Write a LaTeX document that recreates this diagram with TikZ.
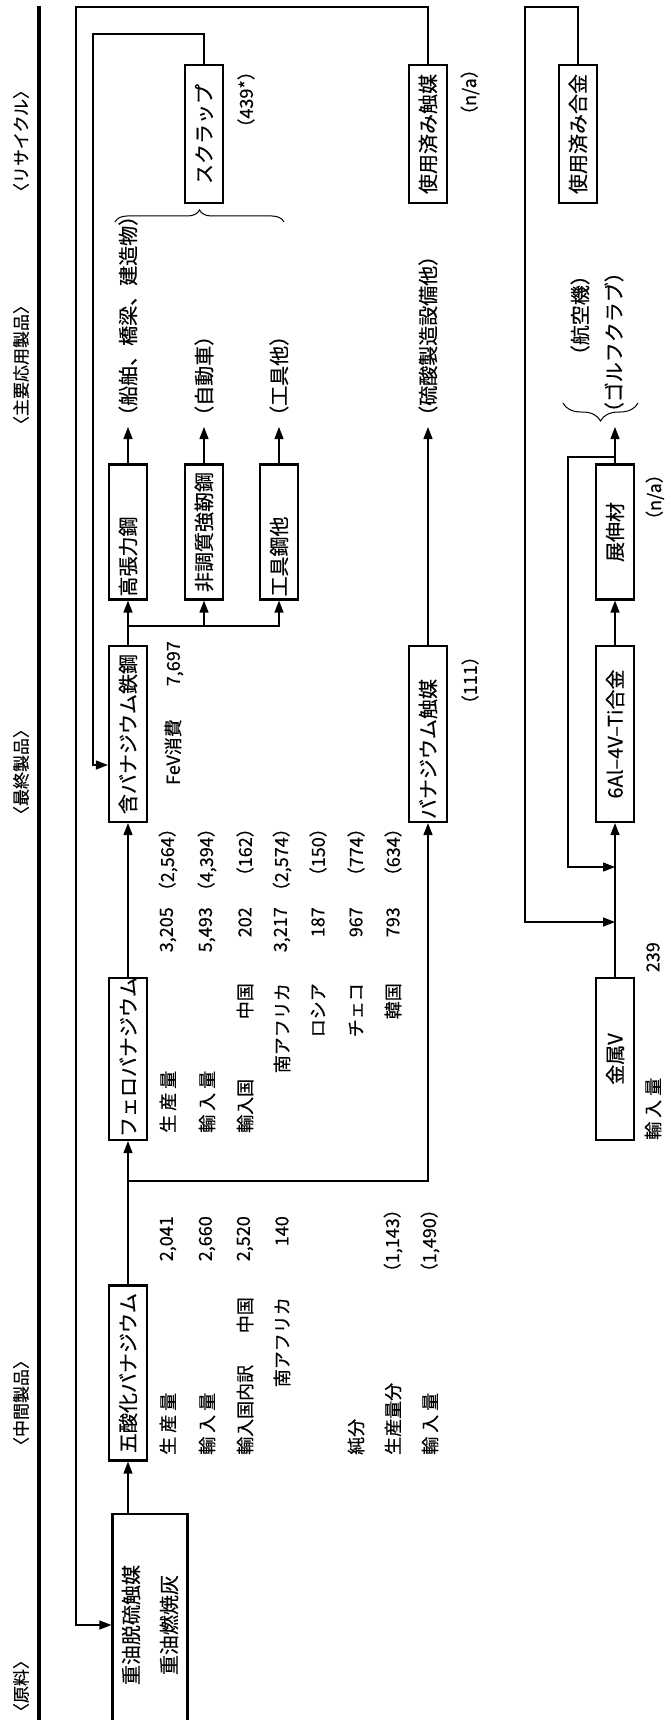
\documentclass[tikz,border=0pt]{standalone}
\usepackage{fontspec}
\setmainfont{Noto Sans CJK JP}[FakeBold=0.4]
\usetikzlibrary{arrows.meta, positioning, decorations.pathreplacing}

\begin{document}
\begin{tikzpicture}[x=1pt, y=-1pt,
    box/.style={draw, line width=2.2pt, rotate=90, minimum height=38pt,
                inner xsep=3pt, inner ysep=0pt, align=center,
                font=\fontsize{20}{22}\selectfont},
    txt/.style={rotate=90, inner sep=1pt, font=\fontsize{18}{20}\selectfont},
    apptext/.style={rotate=90, inner sep=1pt, font=\fontsize{20}{22}\selectfont},
    colhead/.style={rotate=90, inner sep=1pt, font=\fontsize{17}{19}\selectfont},
    link/.style={line width=1.3pt},
    arr/.style={link, -{Triangle[length=12pt, width=9pt]}},
]
    \useasboundingbox (0,0) rectangle (664,1720);
    \clip (0,0) rectangle (664,1720);

    % Column headings
    \draw[line width=3.2pt] (39,6) -- (39,1730);
    \node[colhead] (h-rec) at (21,141) {〈リサイクル〉};
    \node[colhead] (h-app) at (21,365) {〈主要応用製品〉};
    \node[colhead] (h-fin) at (21,772) {〈最終製品〉};
    \node[colhead] (h-mid) at (21,1403) {〈中間製品〉};
    \node[colhead] (h-raw) at (21,1686) {〈原料〉};

    % Raw material
    \node[box, minimum height=75pt, text width=216pt,
          font=\fontsize{20}{38}\selectfont] (raw) at (150,1625) {重油脱硫触媒\\重油燃焼灰};

    % Intermediate products
    \node[box, text width=169pt] (v2o5) at (128,1373) {五酸化バナジウム};
    \node[box, text width=156pt] (ferro) at (128,1059) {フェロバナジウム};
    \node[box, text width=156pt] (metv) at (615,1059) {金属V};

    % Final products
    \node[box, text width=170pt] (vsteel) at (128,734) {含バナジウム鉄鋼};
    \node[box, text width=170pt, align=left] (vcat) at (428,734) {バナジウム触媒};
    \node[box, text width=170pt] (tialloy) at (615,734) {6Al--4V--Ti合金};

    % Applications
    \node[box, text width=129pt, align=left] (hsteel) at (128,532) {高張力鋼};
    \node[box, text width=129pt] (nqsteel) at (204,532) {非調質強靭鋼};
    \node[box, text width=129pt, align=left] (tsteel) at (279,532) {工具鋼他};
    \node[box, text width=129pt] (wrought) at (615,532) {展伸材};

    \node[apptext, anchor=west] (ship) at (128,427) {（船舶、橋梁、建造物）};
    \node[apptext, anchor=west] (car) at (204,427) {（自動車）};
    \node[apptext, anchor=west] (tools) at (279,427) {（工具他）};
    \node[apptext, anchor=west] (sulf) at (428,427) {（硫酸製造設備他）};
    \node[apptext, anchor=east] (plane) at (580,264) {（航空機）};
    \node[apptext, anchor=east] (golf) at (614,261) {（ゴルフクラブ）};

    % Recycling
    \node[box, text width=132pt] (scrap) at (204,134) {スクラップ};
    \node[box, text width=132pt] (usedcat) at (428,134) {使用済み触媒};
    \node[box, text width=132pt] (usedalloy) at (578,134) {使用済み合金};

    \node[txt, anchor=east] (scrap-amt) at (246,61) {（439*）};
    \node[txt, anchor=east] (ucat-amt) at (470,59) {（n/a）};
    \node[txt, anchor=east] (vcat-amt) at (470,646) {（111）};
    \node[txt, anchor=east] (wr-amt) at (655,464) {（n/a）};
    \node[txt, anchor=east] (fev) at (174,640) {FeV消費\hspace{33pt}7,697};
    \node[txt, anchor=west] (mv-imp) at (653,1141) {輸\kern4pt 入\kern4pt 量};
    \node[txt, anchor=east] (mv-num) at (653,941) {239};

    % Vanadium pentoxide figures
    \node[txt, anchor=west] (pe-prod) at (168,1456) {生\kern4pt 産\kern4pt 量};
    \node[txt, anchor=west] (pe-imp) at (207,1456) {輸\kern4pt 入\kern4pt 量};
    \node[txt, anchor=west] (pe-cty) at (245,1456) {輸入国内訳};
    \node[txt, anchor=east] (pe-cn) at (245,1296) {中国};
    \node[txt, anchor=east] (pe-za) at (282,1296) {南アフリカ};
    \node[txt, anchor=west] (pe-pure) at (356,1456) {純分};
    \node[txt, anchor=west] (pe-pprod) at (393,1456) {生産量分};
    \node[txt, anchor=west] (pe-pimp) at (430,1456) {輸\kern4pt 入\kern4pt 量};
    \node[txt, anchor=east] (pe-n1) at (168,1215) {2,041};
    \node[txt, anchor=east] (pe-n2) at (207,1215) {2,660};
    \node[txt, anchor=east] (pe-n3) at (245,1215) {2,520};
    \node[txt, anchor=east] (pe-n4) at (282,1215) {140};
    \node[txt, anchor=east] (pe-n7) at (393,1199) {（1,143）};
    \node[txt, anchor=east] (pe-n8) at (430,1199) {（1,490）};

    % Ferrovanadium figures
    \node[txt, anchor=west] (fe-prod) at (168,1134) {生\kern4pt 産\kern4pt 量};
    \node[txt, anchor=west] (fe-imp) at (207,1134) {輸\kern4pt 入\kern4pt 量};
    \node[txt, anchor=west] (fe-cty) at (245,1134) {輸入国};
    \node[txt, anchor=east] (fe-cn) at (245,982) {中国};
    \node[txt, anchor=east] (fe-za) at (282,982) {南アフリカ};
    \node[txt, anchor=east] (fe-ru) at (318,982) {ロシア};
    \node[txt, anchor=east] (fe-cz) at (356,982) {チェコ};
    \node[txt, anchor=east] (fe-kr) at (393,982) {韓国};
    \node[txt, anchor=east] (fe-n1) at (168,906) {3,205};
    \node[txt, anchor=east] (fe-n2) at (207,906) {5,493};
    \node[txt, anchor=east] (fe-n3) at (245,906) {202};
    \node[txt, anchor=east] (fe-n4) at (282,906) {3,217};
    \node[txt, anchor=east] (fe-n5) at (318,906) {187};
    \node[txt, anchor=east] (fe-n6) at (356,906) {967};
    \node[txt, anchor=east] (fe-n7) at (393,906) {793};
    \node[txt, anchor=east] (fe-v1) at (168,818) {（2,564）};
    \node[txt, anchor=east] (fe-v2) at (207,818) {（4,394）};
    \node[txt, anchor=east] (fe-v3) at (245,818) {（162）};
    \node[txt, anchor=east] (fe-v4) at (282,818) {（2,574）};
    \node[txt, anchor=east] (fe-v5) at (318,818) {（150）};
    \node[txt, anchor=east] (fe-v6) at (356,818) {（774）};
    \node[txt, anchor=east] (fe-v7) at (393,818) {（634）};

    % Main flow
    \coordinate (fsplit) at (128,1181);
    \coordinate (ssplit) at (128,626);
    \draw[arr] (v2o5.west |- raw.east) -- (v2o5.west);
    \draw[arr] (v2o5.east) -- (ferro.west);
    \draw[arr] (fsplit) -| (vcat.west);
    \draw[arr] (ferro.east) -- (vsteel.west);
    \draw[arr] (vsteel.east) -- (hsteel.west);
    \draw[arr] (ssplit) -| (nqsteel.west);
    \draw[arr] (nqsteel.west |- ssplit) -| (tsteel.west);
    \draw[arr] (hsteel.east) -- (ship.west);
    \draw[arr] (nqsteel.east) -- (car.west);
    \draw[arr] (tsteel.east) -- (tools.west);
    \draw[arr] (vcat.east) -- (sulf.west);
    \draw[arr] (metv.east) -- (tialloy.west);
    \draw[arr] (tialloy.east) -- (wrought.west);
    \coordinate (usetip) at (615,427);
    \draw[arr] (wrought.east) -- (usetip);

    % Braces
    \draw[line width=1pt, decorate, decoration={brace, amplitude=12pt}] (115,222) -- (284,222);
    \draw[line width=1pt, decorate, decoration={brace, amplitude=18pt}] (638,403) -- (563,403);

    % Recycling loops
    \coordinate (wbend) at (568,457);
    \coordinate (wback) at (568,867);
    \draw[arr] (wrought.east |- wbend) -- (wbend) -- (wback) -- (tialloy.west |- wback);
    \coordinate (rtop) at (525,7);
    \coordinate (rback) at (525,922);
    \draw[arr] (usedalloy.east) |- (rtop) -- (rback) -- (tialloy.west |- rback);
    \coordinate (otop) at (76,7);
    \coordinate (oback) at (76,1625);
    \draw[arr] (usedcat.east) |- (otop) -- (oback) -- (raw.north);
    \coordinate (itop) at (93,34);
    \coordinate (iback) at (93,765);
    \draw[arr] (scrap.east) |- (itop) -- (iback) -- (vsteel.north |- iback);
\end{tikzpicture}
\end{document}
